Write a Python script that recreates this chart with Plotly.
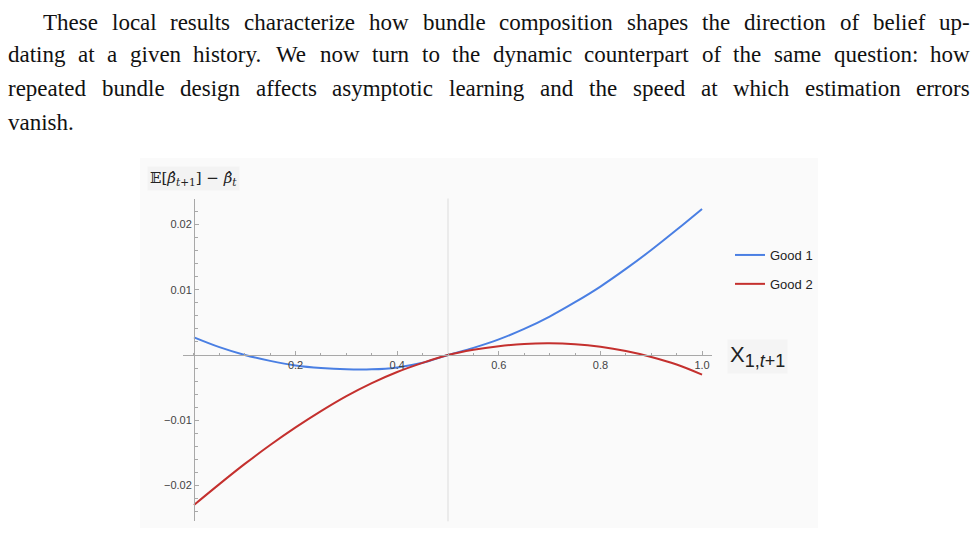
import plotly.graph_objects as go

# ---------------- data ----------------
x_vals = [0.0, 0.05, 0.1, 0.15, 0.2, 0.25, 0.3, 0.35, 0.4, 0.45, 0.5,
          0.55, 0.6, 0.65, 0.7, 0.75, 0.8, 0.85, 0.9, 0.95, 1.0]
good1 = [0.0027, 0.0012, 0.0, -0.0009, -0.0016, -0.0020, -0.0022, -0.0022, -0.0019, -0.0012, 0.0,
         0.0011, 0.0024, 0.0040, 0.0059, 0.0081, 0.0105, 0.0132, 0.0161, 0.0192, 0.0224]
good2 = [-0.0230, -0.0198, -0.0167, -0.0138, -0.0111, -0.0086, -0.0063, -0.0043, -0.0026, -0.0012, 0.0,
         0.0008, 0.00135, 0.0017, 0.0018, 0.00165, 0.00125, 0.0006, -0.0003, -0.00145, -0.0030]
series_names = ["Good 1", "Good 2"]
x_tick_vals = [0.2, 0.4, 0.6, 0.8, 1.0]
x_tick_text = ["0.2", "0.4", "0.6", "0.8", "1.0"]
y_tick_vals = [-0.02, -0.01, 0.01, 0.02]
y_tick_text = ["\u22120.02", "\u22120.01", "0.01", "0.02"]

paragraph = [
    "These local results characterize how bundle composition shapes the direction of belief up-",
    "dating at a given history. We now turn to the dynamic counterpart of the same question: how",
    "repeated bundle design affects asymptotic learning and the speed at which estimation errors",
    "vanish.",
]

# ---------------- layout helpers ----------------
W, H = 976, 554
BLUE = "#4a7fe3"
RED = "#c4302e"
AX = "#a8a8a8"

def px(x):
    return x / W

def py(y):
    return 1 - y / H

# Times/Liberation Serif advance widths (per 1000 em)
TW = {' ': 250, ',': 250, '-': 333, '.': 250, ':': 278,
      'a': 444, 'b': 500, 'c': 444, 'd': 500, 'e': 444, 'f': 333, 'g': 500, 'h': 500,
      'i': 278, 'j': 278, 'k': 500, 'l': 278, 'm': 778, 'n': 500, 'o': 500, 'p': 500,
      'q': 500, 'r': 333, 's': 389, 't': 278, 'u': 500, 'v': 500, 'w': 722, 'x': 500,
      'y': 500, 'z': 444, 'T': 611, 'W': 944}

def tw(s, fs):
    return sum(TW.get(c, 500) for c in s) / 1000.0 * fs

FS = 23
line_y = [22, 55, 88, 122]
line_left = [42, 7, 7, 7]
line_right = 969
justify = [True, True, True, False]

annotations = []
for i, line in enumerate(paragraph):
    words = line.split(" ")
    if justify[i] and len(words) > 1:
        total = sum(tw(w, FS) for w in words)
        gap = (line_right - line_left[i] - total) / (len(words) - 1)
    else:
        gap = tw(" ", FS)
    xpos = line_left[i]
    for w in words:
        annotations.append(dict(
            text=w, x=px(xpos - 1), y=py(line_y[i]), xref="paper", yref="paper",
            xanchor="left", yanchor="middle", showarrow=False,
            font=dict(family="Liberation Serif", size=FS, color="#111")))
        xpos += tw(w, FS) + gap

# axis labels
annotations.append(dict(
    text="\U0001D53C[<i>\u03B2\u0302</i><sub><i>t</i>+1</sub>] \u2212 <i>\u03B2\u0302</i><sub><i>t</i></sub>",
    x=px(147), y=py(179), xref="paper", yref="paper", xanchor="left", yanchor="middle",
    showarrow=False, bgcolor="#f3f3f3", borderpad=2,
    font=dict(family="DejaVu Serif", size=15, color="#222")))
annotations.append(dict(
    text="X<sub><span style='font-size:18px'>1,<i>t</i>+1</span></sub>",
    x=px(727), y=py(356), xref="paper", yref="paper", xanchor="left", yanchor="middle",
    showarrow=False, bgcolor="#f4f4f4", borderpad=2,
    font=dict(family="Liberation Sans", size=22, color="#222")))

# ---------------- figure ----------------
fig = go.Figure()
for name, vals, col in zip(series_names, [good1, good2], [BLUE, RED]):
    fig.add_trace(go.Scatter(x=x_vals, y=vals, mode="lines", name=name,
                             legendgroup=name,
                             line=dict(color=col, width=2, shape="spline", smoothing=1.0)))

x_range = [-0.022, 1.02]
y_range = [-0.0255, 0.0240]
x_dom = [px(182.8), px(712.2)]
y_dom = [py(521.3), py(198.5)]

fig.update_layout(
    width=W, height=H, margin=dict(l=0, r=0, t=0, b=0),
    paper_bgcolor="white", plot_bgcolor="rgba(0,0,0,0)",
    showlegend=True,
    legend=dict(x=px(730), y=py(240), xanchor="left", yanchor="top",
                bgcolor="rgba(0,0,0,0)", tracegroupgap=9, itemwidth=30,
                font=dict(family="Liberation Sans", size=13, color="#222")),
    xaxis=dict(domain=x_dom, range=x_range, anchor="free", position=py(355),
               showline=True, linecolor=AX, linewidth=1, zeroline=False, showgrid=False,
               ticks="inside", ticklen=4, tickcolor=AX, tickwidth=1,
               tickmode="array", tickvals=x_tick_vals, ticktext=x_tick_text,
               tickfont=dict(family="Liberation Sans", size=11, color="#444"),
               minor=dict(ticks="inside", ticklen=2.5, tickcolor=AX, tick0=0, dtick=0.05,
                          showgrid=False)),
    yaxis=dict(domain=y_dom, range=y_range, anchor="free", position=px(194),
               showline=True, linecolor=AX, linewidth=1, zeroline=False, showgrid=False,
               ticks="inside", ticklen=4, tickcolor=AX, tickwidth=1,
               tickmode="array", tickvals=y_tick_vals, ticktext=y_tick_text,
               tickfont=dict(family="Liberation Sans", size=11, color="#444"),
               minor=dict(ticks="inside", ticklen=2.5, tickcolor=AX, tick0=0, dtick=0.002,
                          showgrid=False)),
    annotations=annotations,
    shapes=[
        dict(type="rect", xref="paper", yref="paper", x0=px(140), x1=px(818),
             y0=py(528), y1=py(158), fillcolor="#fafafa", line=dict(width=0), layer="below"),
        dict(type="line", xref="x", yref="y domain", x0=0.5, x1=0.5, y0=0, y1=1,
             line=dict(color="#dcdcdc", width=1), layer="below"),
    ],
)

fig.write_html("out.html", config={"displayModeBar": False},
               post_script="document.body.style.margin='0';document.body.style.overflow='hidden';")
